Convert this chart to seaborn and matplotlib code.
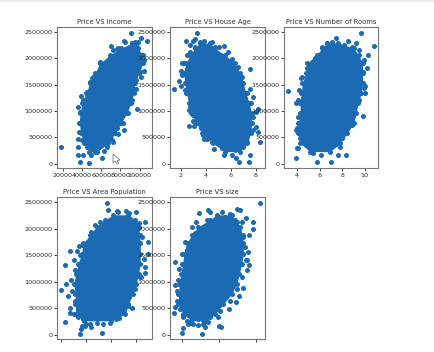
import matplotlib
matplotlib.use('Agg')
import matplotlib.pyplot as plt
from matplotlib.patches import Polygon, Rectangle
import seaborn as sb

BLUE = '#1a6bb4'

# dense part of each cloud, read as left/right edge at each price level
levels_top = [230000, 385000, 575000, 765000, 955000, 1145000, 1335000, 1525000, 1715000, 1905000, 2065000, 2190000, 2290000]
levels_bot = [260000, 387000, 577000, 768000, 958000, 1148000, 1339000, 1529000, 1719000, 1878000, 2037000, 2164000, 2259000]

income_left = [47400, 41800, 38600, 36900, 37600, 40000, 43900, 48100, 53400, 58600, 69100, 80400, 92000]
income_right = [55800, 67400, 74400, 80400, 86700, 90900, 93700, 95500, 99000, 103500, 103500, 97900, 97200]
age_left = [5.51, 4.57, 3.71, 3.23, 2.83, 2.64, 2.43, 2.32, 2.21, 2.38, 2.75, 3.10, 3.50]
age_right = [6.71, 7.30, 7.57, 7.65, 7.65, 7.47, 7.20, 6.98, 6.71, 6.31, 5.51, 4.71, 4.30]
rooms_left = [5.16, 4.27, 4.06, 4.12, 4.27, 4.27, 4.36, 4.48, 4.77, 4.86, 5.75, 6.20, 6.64]
rooms_right = [6.94, 7.83, 8.43, 9.02, 9.26, 9.41, 9.70, 9.82, 9.82, 9.82, 9.46, 9.02, 7.68]
pop_left = [19000, 12100, 11600, 11600, 10500, 12100, 14000, 16700, 18000, 23400, 28800, 35500, 42200]
pop_right = [40000, 51700, 54300, 57800, 60500, 62400, 63800, 63800, 63800, 63200, 62400, 59700, 54300]
size_left = [1250, 1027, 891, 891, 918, 955, 1009, 1045, 1118, 1255, 1436, 1755, 1936]
size_right = [1650, 1891, 2118, 2345, 2482, 2555, 2618, 2664, 2664, 2645, 2573, 2436, 2345]

# loose points around each cloud
income_x = [17600, 36150, 41060, 38250, 47380, 60720, 36150, 36150, 36850, 36150, 38600, 44570, 49840, 69840, 90900,
            83880, 101780, 107750, 104240, 97220, 83880, 77920, 72650, 62470, 48780, 95470, 77920, 58610, 101780, 95830,
            58610, 59660, 50890, 48080, 45270, 40360, 37550, 72650, 76870, 84940, 91950, 97920, 102490, 104240, 100730,
            96520, 91950, 88440, 83180, 76870, 70890, 65630, 53350, 44570, 39300]
income_y = [316000, 158000, 158000, 38000, 19000, 108000, 310000, 462000, 601000, 1082000, 1285000, 1354000, 1620000, 2240000, 2481000,
            2335000, 2386000, 2335000, 1766000, 1044000, 639000, 563000, 418000, 247000, 158000, 2316000, 2190000, 1905000, 1652000, 1411000,
            1937000, 1842000, 1639000, 1557000, 1367000, 1209000, 987000, 2158000, 2171000, 2316000, 2297000, 2316000, 2063000, 1968000, 1747000,
            1589000, 1209000, 956000, 766000, 671000, 449000, 323000, 228000, 323000, 449000]

age_x = [1.46, 1.84, 1.97, 3.29, 2.43, 2.75, 2.96, 3.15, 3.85, 4.44, 5.0, 5.46, 5.78, 7.52, 7.52, 7.73, 8.19, 8.0, 8.32,
         8.13, 7.97, 7.52, 7.41, 6.66, 6.39, 6.08, 5.43, 4.66, 3.85, 4.04, 2.64, 3.07, 2.94, 2.64, 2.05, 2.03, 2.51, 6.71,
         2.21, 2.11, 2.29, 2.70, 2.96, 3.63, 3.77, 4.44, 5.24, 6.31, 6.98, 7.30, 7.73, 7.79, 7.57, 7.30, 6.85, 6.58, 6.05,
         4.71, 3.50, 3.10, 2.70]
age_y = [1411000, 1570000, 1475000, 2481000, 2335000, 2253000, 2335000, 2361000, 2335000, 2304000, 2209000, 2228000, 2114000, 1804000, 1418000, 1272000, 1044000, 987000, 418000,
         608000, 703000, 165000, 25000, 38000, 101000, 165000, 165000, 278000, 468000, 468000, 715000, 715000, 816000, 1019000, 1905000, 1766000, 2063000, 1589000,
         1918000, 1684000, 1399000, 1082000, 924000, 671000, 544000, 418000, 291000, 259000, 323000, 418000, 639000, 892000, 1146000, 1335000, 1652000, 1842000, 1981000,
         2222000, 2316000, 2222000, 2127000]

rooms_x = [3.23, 3.94, 5.78, 7.0, 7.62, 8.31, 7.83, 9.70, 10.80, 10.30, 10.18, 8.51, 7.45, 9.23, 6.64, 6.20, 6.79,
           9.82, 10.06, 10.0, 3.91, 3.88, 4.0, 6.10, 5.46, 7.43, 4.42, 4.86,
           4.36, 4.18, 4.12, 4.12, 4.0, 4.27, 4.12, 4.71, 5.31, 6.49, 7.24, 7.98, 8.87, 9.17, 9.46, 9.91, 9.82, 9.91,
           9.46, 8.87, 8.13, 7.09, 5.90, 5.60]
rooms_y = [1373000, 108000, 38000, 25000, 165000, 165000, 310000, 2481000, 2240000, 2063000, 1823000, 2335000, 2380000, 2285000, 2285000, 2209000, 2114000,
           905000, 1335000, 1475000, 1146000, 639000, 291000, 165000, 209000, 367000, 1639000, 1823000,
           1620000, 1399000, 1209000, 892000, 671000, 481000, 291000, 386000, 259000, 323000, 354000, 481000, 734000, 956000, 1209000, 1430000, 1747000, 1968000,
           2158000, 2222000, 2253000, 2316000, 2063000, 2000000]

pop_x = [0, 3230, 3770, 4570, 7530, 5920, 7260, 7260, 15870, 16680, 16140, 19640, 24480, 33090, 37390, 37660, 23940,
         27440, 14530, 13180, 10490, 46810, 54070, 57300, 67520, 69670, 67790, 67520, 64290, 52460, 60260, 46270, 69670,
         16680, 15330, 11300, 8610, 9420, 11300, 10490, 18020, 27440, 39540, 48960, 54340, 59720, 63750, 66980, 65100,
         62410, 54340, 44920, 31470, 24750, 23400, 28780, 34160, 39540, 20180, 14000, 44000]
pop_y = [850000, 1313000, 235000, 958000, 1580000, 736000, 501000, 400000, 19000, 165000, 102000, 165000, 152000, 38000, 2475000, 2354000, 1942000,
         2068000, 1669000, 1574000, 1415000, 311000, 539000, 508000, 2132000, 1751000, 1275000, 1167000, 1085000, 2322000, 2303000, 2316000, 1516000,
         1688000, 1497000, 1212000, 1022000, 831000, 641000, 387000, 292000, 387000, 324000, 514000, 704000, 863000, 1085000, 1434000, 1846000,
         2100000, 2290000, 2322000, 2132000, 1910000, 209000, 228000, 197000, 228000, 209000, 330000, 300000]

size_x = [3118, 2936, 2918, 2818, 809, 791, 800, 782, 918, 1009, 1000, 1536, 2000, 2045, 2282, 1573, 1618, 1709, 1982, 1009,
          2664, 2555, 2464, 2827, 2755, 2773, 2800, 2500, 2573, 1691, 1755, 1464, 1255, 1373, 1073, 982, 2736, 2618, 2073, 2300,
          891, 845, 845, 936, 1027, 1164, 1436, 1755, 2027, 2300, 2482, 2618, 2736, 2709, 2664, 2482, 2164, 1664, 1345, 1118, 982,
          1300, 1436, 1227, 1573, 1120]
size_y = [2475000, 1992000, 2125000, 1878000, 1371000, 945000, 514000, 412000, 1237000, 121000, 32000, 13000, 159000, 146000, 489000, 209000, 146000, 235000, 324000, 324000,
          882000, 736000, 609000, 1307000, 1212000, 1402000, 1561000, 2373000, 2341000, 2341000, 2310000, 2284000, 2037000, 2132000, 1751000, 1516000, 2195000, 2132000, 2310000, 2272000,
          1022000, 831000, 641000, 482000, 355000, 197000, 292000, 324000, 451000, 641000, 863000, 1085000, 1402000, 1656000, 1846000, 2132000, 2227000, 2164000, 1910000, 1593000, 1339000,
          197000, 184000, 228000, 273000, 260000]

price_ticks = [0, 500000, 1000000, 1500000, 2000000, 2500000]

W, H = 434, 352
fig = plt.figure(figsize=(W / 100, H / 100), dpi=100)
fig.add_artist(Rectangle((0, 1 - 2 / H), 1, 2 / H, transform=fig.transFigure, color='#ececec', lw=0))


def panel(box, title, xs, ys, levels, left, right, xlim, ylim, xticks, show_labels=True):
    x0, y0, x1, y1 = box
    ax = fig.add_axes([x0 / W, 1 - y1 / H, (x1 - x0) / W, (y1 - y0) / H])
    ax.fill_betweenx(levels, left, right, color=BLUE, lw=0)
    sb.scatterplot(x=left + right, y=levels + levels, color=BLUE, s=13, linewidth=0, ax=ax)
    sb.scatterplot(x=xs, y=ys, color=BLUE, s=13, linewidth=0, ax=ax)
    ax.set_xlim(xlim)
    ax.set_ylim(ylim)
    ax.set_xticks(xticks)
    ax.set_yticks(price_ticks)
    ax.ticklabel_format(style='plain', axis='both')
    if not show_labels:
        ax.set_xticklabels([])
    ax.tick_params(labelsize=4.6, length=2, width=0.6, pad=1.5, colors='#2a2a2a')
    ax.set_title(title, fontsize=4.9, color='#333333', pad=2.5)
    for s in ax.spines.values():
        s.set_color('#777777')
        s.set_linewidth(0.8)
    return ax


row = (-82000, 2595000)
panel((57, 27, 152, 168), 'Price VS Income', income_x, income_y, levels_top, income_left, income_right,
      (13680, 113015), row, [20000, 40000, 60000, 80000, 100000])
panel((170, 27, 265, 168), 'Price VS House Age', age_x, age_y, levels_top, age_left, age_right,
      (1.12, 8.72), row, [2, 4, 6, 8])
panel((284, 27, 378, 168), 'Price VS Number of Rooms', rooms_x, rooms_y, levels_top, rooms_left, rooms_right,
      (2.84, 11.19), row, [4, 6, 8, 10])
panel((57, 197, 152, 339), 'Price VS Area Population', pop_x, pop_y, levels_bot, pop_left, pop_right,
      (-2960, 73170), row, [0, 20000, 40000, 60000], show_labels=False)
panel((170, 197, 265, 339), 'Price VS size', size_x, size_y, levels_bot, size_left, size_right,
      (664, 3254), row, [1000, 2000, 3000], show_labels=False)

# mouse pointer left on the screen
cursor = [(113, 154), (113, 163), (115, 161), (117, 164), (118.5, 163.5), (117, 160.5), (120, 160)]
fig.add_artist(Polygon([(x / W, 1 - y / H) for x, y in cursor], transform=fig.transFigure,
                       facecolor='white', edgecolor='#666666', lw=0.5))

plt.savefig('out.png', dpi=100)
